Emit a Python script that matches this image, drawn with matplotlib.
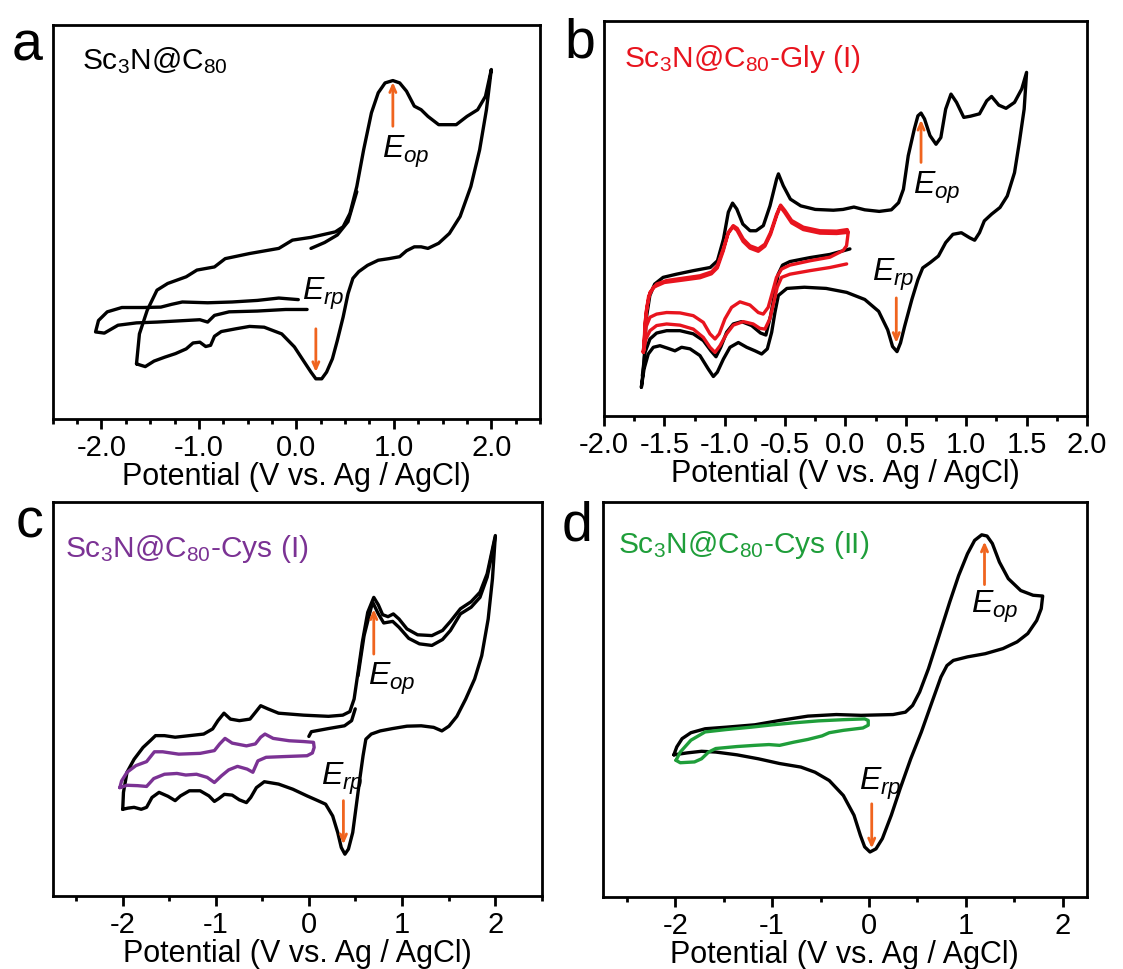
import numpy as np
import matplotlib.pyplot as plt
from matplotlib.ticker import MultipleLocator, FormatStrFormatter

plt.rcParams['font.family'] = ['Liberation Sans', 'DejaVu Sans']
plt.rcParams['mathtext.fontset'] = 'custom'
plt.rcParams['mathtext.rm'] = 'Liberation Sans'
plt.rcParams['mathtext.it'] = 'Liberation Sans:italic'
plt.rcParams['mathtext.default'] = 'regular'
plt.rcParams['axes.unicode_minus'] = False

# CV traces: (potential in V, current in arbitrary units 0-100)

# --- a: Sc3N@C80 ---
a_loop = [(-1.64, 14.0), (-1.61, 21.6), (-1.53, 27.6), (-1.43, 32.7), (-1.32, 34.4), (-1.13, 36.1),
          (-1.02, 37.8), (-0.84, 38.6), (-0.73, 40.7), (-0.48, 42.0), (-0.18, 43.3), (-0.04, 45.4),
          (0.15, 46.1), (0.40, 47.5), (0.48, 48.8), (0.55, 52.2), (0.62, 59.0), (0.69, 68.3),
          (0.77, 77.7), (0.84, 82.8), (0.91, 85.3), (0.99, 85.9), (1.06, 85.3), (1.13, 83.2),
          (1.21, 79.4), (1.28, 78.5), (1.35, 76.8), (1.46, 74.7), (1.64, 74.7), (1.75, 76.8),
          (1.86, 78.5), (1.94, 81.9), (2.00, 88.7),
          (1.95, 78.5), (1.88, 68.3), (1.79, 59.0), (1.68, 51.4), (1.57, 47.1), (1.46, 44.6),
          (1.35, 43.3), (1.28, 43.7), (1.21, 43.7), (1.13, 42.7), (1.06, 41.2), (0.95, 40.7),
          (0.84, 40.3), (0.73, 39.0), (0.64, 37.4), (0.58, 35.7), (0.53, 31.8), (0.48, 25.9),
          (0.42, 19.9), (0.37, 15.3), (0.31, 11.9), (0.26, 10.2), (0.20, 10.2), (0.15, 11.9),
          (0.07, 14.9), (-0.02, 18.3), (-0.15, 21.6), (-0.33, 23.3), (-0.48, 23.5), (-0.62, 22.9),
          (-0.77, 22.2), (-0.84, 21.0), (-0.88, 18.7), (-0.93, 18.4), (-0.99, 19.5), (-1.06, 19.3),
          (-1.13, 17.8), (-1.24, 16.6), (-1.35, 15.7), (-1.46, 14.7), (-1.55, 13.3), (-1.59, 13.6),
          (-1.64, 14.0)]
a_start = [(0.15, 43.3), (0.29, 44.8), (0.42, 46.7), (0.53, 50.1), (0.62, 57.7)]
a_tail = [(0.02, 30.3), (-0.18, 30.7), (-0.40, 30.1), (-0.66, 29.7), (-0.91, 29.5), (-1.17, 29.7),
          (-1.28, 29.1), (-1.39, 28.4), (-1.57, 28.3), (-1.79, 28.3), (-1.94, 27.2), (-2.03, 25.0),
          (-2.06, 22.1), (-1.97, 21.8), (-1.83, 23.8), (-1.64, 24.4), (-1.43, 24.6), (-1.21, 24.9),
          (-0.99, 25.2), (-0.91, 24.6), (-0.84, 26.3), (-0.69, 27.2), (-0.40, 27.4), (-0.11, 27.8),
          (0.11, 27.8)]

# --- b: Sc3N@C80-Gly (I) ---
b_loop = [(-1.69, 7.3), (-1.67, 12.7), (-1.65, 24.6), (-1.62, 30.5), (-1.58, 33.4), (-1.51, 35.1),
          (-1.40, 35.9), (-1.26, 36.8), (-1.12, 37.6), (-1.06, 39.3), (-1.01, 44.8), (-0.97, 51.6),
          (-0.935, 53.9), (-0.90, 52.4), (-0.85, 48.6), (-0.79, 46.9), (-0.74, 46.9), (-0.68, 48.2),
          (-0.625, 53.2), (-0.57, 60.0), (-0.555, 61.3), (-0.515, 58.3), (-0.456, 54.9), (-0.37, 53.2),
          (-0.25, 52.3), (-0.10, 52.1), (-0.02, 52.3), (0.07, 52.9), (0.16, 52.2), (0.28, 51.8),
          (0.38, 52.2), (0.44, 54.0), (0.48, 57.4), (0.52, 65.9), (0.57, 72.6), (0.60, 76.0),
          (0.626, 76.7), (0.655, 75.2), (0.70, 71.0), (0.75, 68.8), (0.79, 70.5), (0.83, 77.7),
          (0.874, 81.5), (0.92, 79.4), (0.98, 75.6), (1.035, 75.9), (1.11, 76.5), (1.17, 79.8),
          (1.21, 80.9), (1.27, 78.7), (1.33, 77.9), (1.40, 79.4), (1.46, 82.8), (1.50, 87.0),
          (1.48, 77.7), (1.44, 69.3), (1.40, 61.6), (1.34, 55.7), (1.28, 52.8), (1.21, 51.1),
          (1.15, 49.4), (1.11, 46.4), (1.07, 44.5), (1.03, 45.1), (0.96, 46.4), (0.89, 46.0),
          (0.83, 43.9), (0.77, 40.5), (0.70, 38.8), (0.64, 37.5), (0.60, 34.5), (0.55, 29.5),
          (0.49, 22.7), (0.456, 18.5), (0.427, 16.3), (0.39, 17.6), (0.35, 21.8), (0.275, 26.5),
          (0.16, 29.5), (0.01, 31.3), (-0.16, 32.3), (-0.34, 32.6), (-0.485, 32.3), (-0.556, 30.5),
          (-0.584, 26.2), (-0.611, 21.2), (-0.647, 17.0), (-0.694, 15.7), (-0.749, 16.5),
          (-0.818, 17.4), (-0.887, 18.6), (-0.956, 17.4), (-1.011, 14.4), (-1.061, 11.1),
          (-1.094, 10.0), (-1.136, 11.9), (-1.205, 15.3), (-1.287, 17.0), (-1.357, 17.4),
          (-1.412, 16.5), (-1.467, 17.1), (-1.536, 17.8), (-1.591, 17.4), (-1.633, 15.7),
          (-1.668, 11.9), (-1.69, 7.3)]
b_black2 = [(0.037, 42.3), (-0.129, 40.9), (-0.294, 40.1), (-0.460, 39.1), (-0.521, 38.2),
            (-0.557, 35.9), (-0.584, 31.3), (-0.620, 25.4), (-0.659, 20.5), (-0.703, 21.0),
            (-0.777, 22.9), (-0.860, 23.9), (-0.929, 23.3), (-0.984, 21.2), (-1.033, 17.4),
            (-1.072, 15.0), (-1.114, 16.5), (-1.177, 19.1), (-1.260, 20.8), (-1.370, 21.6),
            (-1.481, 21.6), (-1.564, 21.0), (-1.619, 19.5), (-1.660, 16.1), (-1.682, 10.2)]
b_red_low1 = [(0.010, 38.5), (-0.128, 37.6), (-0.294, 36.8), (-0.460, 35.9), (-0.529, 35.1),
              (-0.565, 32.6), (-0.593, 28.8), (-0.626, 24.6), (-0.667, 22.0), (-0.709, 22.2),
              (-0.764, 23.3), (-0.846, 23.9), (-0.929, 23.0), (-0.984, 20.8), (-1.039, 17.8),
              (-1.080, 16.1), (-1.122, 17.4), (-1.177, 19.9), (-1.260, 22.0), (-1.370, 23.0),
              (-1.481, 23.3), (-1.564, 22.9), (-1.619, 21.6), (-1.652, 19.5), (-1.674, 16.1)]
b_red_up1 = [(-1.674, 16.1), (-1.665, 20.0), (-1.660, 23.7), (-1.641, 27.9), (-1.619, 31.3),
             (-1.564, 33.4), (-1.481, 34.3), (-1.343, 34.9), (-1.205, 35.5), (-1.108, 36.5),
             (-1.061, 38.1), (-1.012, 42.3), (-0.970, 46.5), (-0.929, 48.2), (-0.896, 47.5),
             (-0.846, 44.8), (-0.791, 43.1), (-0.722, 42.3), (-0.667, 43.5), (-0.620, 46.5),
             (-0.570, 51.1), (-0.537, 53.4), (-0.501, 52.0), (-0.446, 49.5), (-0.349, 47.8),
             (-0.211, 46.9), (-0.073, 46.8), (0.015, 47.2), (0.023, 46.5), (0.009, 43.1)]
b_red_low2 = [(-0.019, 41.9), (-0.129, 40.2), (-0.294, 39.3), (-0.460, 38.2), (-0.529, 37.2),
              (-0.571, 35.1), (-0.605, 31.3), (-0.640, 27.5), (-0.681, 25.8), (-0.722, 26.2),
              (-0.791, 28.1), (-0.874, 28.9), (-0.943, 27.5), (-0.998, 24.6), (-1.045, 20.8),
              (-1.080, 19.5), (-1.122, 20.8), (-1.177, 23.7), (-1.260, 25.4), (-1.370, 26.1),
              (-1.481, 26.2), (-1.564, 25.8), (-1.619, 25.0), (-1.652, 22.5), (-1.674, 16.1)]
b_red_up2 = [(-1.674, 16.1), (-1.662, 21.0), (-1.650, 26.5), (-1.630, 30.3), (-1.590, 32.6),
             (-1.500, 33.8), (-1.350, 34.4), (-1.205, 35.0), (-1.110, 36.0), (-1.061, 37.5),
             (-1.012, 41.8), (-0.972, 46.2), (-0.931, 47.9), (-0.898, 47.0), (-0.848, 44.2),
             (-0.791, 42.5), (-0.722, 41.7), (-0.667, 43.0), (-0.620, 46.0), (-0.570, 50.7),
             (-0.540, 53.0), (-0.503, 51.5), (-0.446, 48.9), (-0.349, 47.2), (-0.211, 46.3),
             (-0.073, 46.2), (0.020, 46.5)]

# --- c: Sc3N@C80-Cys (I) ---
c_loop = [(-1.998, 22.0), (-1.990, 26.3), (-1.952, 31.4), (-1.876, 34.7), (-1.780, 37.7),
          (-1.703, 39.4), (-1.646, 40.7), (-1.550, 40.7), (-1.435, 40.3), (-1.282, 40.7),
          (-1.129, 41.1), (-1.033, 42.4), (-0.976, 44.5), (-0.911, 46.4), (-0.842, 44.9),
          (-0.746, 44.5), (-0.632, 44.9), (-0.574, 46.6), (-0.517, 48.3), (-0.440, 47.5),
          (-0.325, 46.4), (-0.057, 45.9), (0.211, 45.6), (0.364, 45.9), (0.440, 46.8),
          (0.486, 50.0), (0.528, 56.8), (0.574, 64.4), (0.632, 72.0), (0.697, 75.8), (0.746, 73.9),
          (0.792, 71.4), (0.850, 70.9), (0.907, 71.6), (0.968, 70.3), (1.053, 67.8), (1.167, 66.3),
          (1.321, 66.1), (1.435, 67.4), (1.520, 69.7), (1.627, 72.9), (1.742, 74.7), (1.837, 77.1),
          (1.914, 81.8), (2.002, 91.5),
          (1.971, 80.5), (1.925, 70.3), (1.856, 61.0), (1.780, 55.1), (1.684, 50.0), (1.589, 45.6),
          (1.504, 43.1), (1.428, 41.9), (1.340, 42.8), (1.206, 43.2), (1.053, 43.1), (0.900, 42.5),
          (0.766, 41.9), (0.670, 41.1), (0.612, 39.8), (0.582, 35.6), (0.547, 29.7), (0.509, 22.9),
          (0.471, 16.1), (0.425, 11.9), (0.387, 10.6), (0.348, 12.3), (0.310, 16.1), (0.256, 20.3),
          (0.180, 23.3), (0.096, 24.2), (-0.019, 25.4), (-0.172, 27.1), (-0.325, 28.4),
          (-0.478, 29.0), (-0.563, 27.5), (-0.624, 25.0), (-0.670, 23.7), (-0.746, 24.4),
          (-0.823, 25.6), (-0.907, 25.8), (-0.968, 24.7), (-1.014, 24.0), (-1.072, 25.4),
          (-1.167, 26.7), (-1.282, 26.7), (-1.378, 25.4), (-1.435, 24.2), (-1.512, 25.3),
          (-1.608, 26.3), (-1.684, 25.0), (-1.742, 22.5), (-1.799, 22.0), (-1.876, 22.5),
          (-1.941, 22.3), (-1.998, 22.0)]
c_second = [(0.528, 55.9), (0.593, 66.1), (0.670, 73.3), (0.689, 74.4), (0.746, 71.6), (0.804, 69.3),
            (0.900, 69.7), (0.968, 68.2), (1.072, 65.4), (1.187, 64.0), (1.321, 63.6), (1.435, 65.1),
            (1.520, 67.4), (1.627, 71.6), (1.742, 73.3), (1.837, 75.8), (1.914, 80.9), (2.002, 91.1)]
c_start = [(0.0, 40.5), (0.027, 41.7), (0.211, 42.5), (0.383, 43.2), (0.459, 44.5), (0.498, 47.5)]
c_purple = [(-2.029, 27.5), (-2.010, 29.2), (-1.952, 31.4), (-1.856, 33.1), (-1.742, 34.1),
            (-1.658, 36.6), (-1.569, 36.6), (-1.397, 36.0), (-1.167, 36.2), (-1.014, 36.9),
            (-0.957, 38.6), (-0.900, 40.0), (-0.823, 38.8), (-0.670, 38.1), (-0.574, 38.6),
            (-0.517, 40.3), (-0.471, 41.1), (-0.383, 40.0), (-0.211, 39.4), (-0.057, 39.2),
            (0.050, 39.0), (0.057, 37.7), (0.038, 36.3), (-0.019, 35.6), (-0.249, 35.4),
            (-0.459, 35.2), (-0.547, 34.3), (-0.601, 31.4), (-0.662, 32.2), (-0.766, 32.9),
            (-0.861, 32.0), (-0.938, 30.5), (-1.014, 28.8), (-1.091, 30.1), (-1.206, 30.9),
            (-1.321, 30.7), (-1.416, 31.1), (-1.550, 30.9), (-1.665, 29.8), (-1.742, 27.8),
            (-1.837, 28.0), (-1.952, 28.1), (-2.029, 27.5)]

# --- d: Sc3N@C80-Cys (II) ---
d_loop = [(-2.015, 36.0), (-1.985, 38.0), (-1.930, 40.1), (-1.839, 41.6), (-1.692, 42.6),
          (-1.473, 43.0), (-1.179, 43.6), (-0.923, 44.7), (-0.630, 45.8), (-0.337, 46.2),
          (-0.081, 46.0), (0.249, 46.2), (0.377, 46.8), (0.451, 48.5), (0.524, 51.9), (0.615, 57.8),
          (0.725, 66.2), (0.835, 74.7), (0.927, 81.4), (1.018, 86.9), (1.092, 90.3), (1.165, 91.7),
          (1.220, 91.4), (1.275, 89.5), (1.348, 84.8), (1.440, 80.6), (1.568, 77.6), (1.696, 76.4),
          (1.795, 76.2),
          (1.780, 73.0), (1.733, 70.0), (1.641, 66.7), (1.531, 64.6), (1.385, 62.9), (1.201, 61.6),
          (1.018, 60.8), (0.872, 59.9), (0.806, 58.6), (0.744, 55.7), (0.652, 49.4), (0.542, 41.8),
          (0.432, 35.0), (0.322, 27.4), (0.231, 20.7), (0.139, 14.8), (0.073, 12.2), (0.011, 11.4),
          (-0.044, 12.7), (-0.088, 15.6), (-0.154, 20.7), (-0.264, 25.7), (-0.410, 29.5),
          (-0.557, 31.6), (-0.703, 32.9), (-0.923, 33.8), (-1.143, 35.0), (-1.363, 36.0),
          (-1.582, 36.7), (-1.729, 36.9), (-1.875, 36.5), (-2.015, 36.0)]
d_green = [(-1.993, 34.6), (-1.949, 36.7), (-1.839, 39.7), (-1.692, 41.8), (-1.473, 42.4),
           (-1.216, 43.0), (-0.996, 43.6), (-0.777, 44.1), (-0.520, 44.6), (-0.264, 44.9),
           (-0.044, 45.1), (-0.007, 44.7), (-0.007, 43.5), (-0.062, 42.8), (-0.264, 42.2),
           (-0.410, 41.6), (-0.484, 40.8), (-0.630, 39.9), (-0.777, 39.2), (-0.923, 38.4),
           (-1.033, 38.6), (-1.179, 38.4), (-1.363, 38.1), (-1.582, 37.6), (-1.656, 36.7),
           (-1.729, 35.0), (-1.802, 34.2), (-1.949, 34.0), (-1.993, 34.6)]

RED = '#e8141e'
PURPLE = '#7b3294'
GREEN = '#1f9e3a'
ORANGE = '#f0641e'
LW = 2.4


def trace(ax, pts, color='black', lw=LW):
    v, i = np.array(pts).T
    ax.plot(v, i, color=color, lw=lw, solid_joinstyle='round', solid_capstyle='round')


def style(ax, xlim, major, minor, fmt):
    ax.set_xlim(*xlim)
    ax.set_ylim(0, 100)
    ax.set_yticks([])
    ax.xaxis.set_major_locator(MultipleLocator(major))
    ax.xaxis.set_minor_locator(MultipleLocator(minor))
    ax.xaxis.set_major_formatter(FormatStrFormatter(fmt))
    ax.tick_params(axis='x', which='major', direction='out', length=7, width=2, pad=3, labelsize=21)
    ax.tick_params(axis='x', which='minor', direction='out', length=3.5, width=2)
    for s in ax.spines.values():
        s.set_linewidth(2)
    ax.set_xlabel('Potential (V vs. Ag / AgCl)', fontsize=22, labelpad=0)


def marks(ax, up, down):
    # up = (V, tail, tip, text_x, text_y); down likewise
    for (v, tail, tip, tx, ty), sub in ((up, 'op'), (down, 'rp')):
        ax.annotate('', xy=(v, tip), xytext=(v, tail),
                    arrowprops=dict(arrowstyle='->,head_length=0.5,head_width=0.22',
                                    color=ORANGE, lw=2, shrinkA=0, shrinkB=0))
        ax.text(tx, ty, r'$\mathit{E}_{\mathit{%s}}$' % sub, fontsize=23, va='baseline', ha='left')


fig = plt.figure(figsize=(11.23, 9.70), dpi=100)
ax_a = fig.add_axes([0.0469, 0.567, 0.434, 0.4062])
ax_b = fig.add_axes([0.5378, 0.5701, 0.4301, 0.4072])
ax_c = fig.add_axes([0.0469, 0.0753, 0.4355, 0.4061])
ax_d = fig.add_axes([0.5367, 0.0742, 0.4310, 0.4072])

# a
trace(ax_a, a_loop)
trace(ax_a, a_start)
trace(ax_a, a_tail)
style(ax_a, (-2.5, 2.5), 1.0, 0.25, '%.1f')
marks(ax_a, (0.99, 74.3, 85.5, 0.88, 66.6), (0.20, 22.9, 11.9, 0.055, 30.6))
ax_a.text(0.061, 0.891, r'Sc$_3$N@C$_{80}$', transform=ax_a.transAxes, fontsize=21.5, va='baseline')

# b
trace(ax_b, b_loop)
trace(ax_b, b_black2)
red = np.concatenate([b_red_low1, b_red_up1, b_red_low2, b_red_up2])
trace(ax_b, red, RED)
style(ax_b, (-2.0, 2.0), 0.5, 0.25, '%.1f')
marks(ax_b, (0.626, 64.2, 75.0, 0.561, 56.6), (0.421, 29.9, 18.5, 0.216, 34.5))
ax_b.text(0.041, 0.887, r'Sc$_3$N@C$_{80}$-Gly (I)', transform=ax_b.transAxes, fontsize=21.5,
          va='baseline', color=RED)

# c
trace(ax_c, c_loop)
trace(ax_c, c_second)
trace(ax_c, c_start)
trace(ax_c, c_purple, PURPLE)
style(ax_c, (-2.75, 2.5), 1, 0.5, '%d')
marks(ax_c, (0.697, 61.4, 72.8, 0.632, 53.8), (0.371, 24.2, 13.1, 0.126, 28.4))
ax_c.text(0.025, 0.864, r'Sc$_3$N@C$_{80}$-Cys (I)', transform=ax_c.transAxes, fontsize=21.5,
          va='baseline', color=PURPLE)

# d
trace(ax_d, d_loop)
trace(ax_d, d_green, GREEN)
style(ax_d, (-2.75, 2.25), 1, 0.5, '%d')
marks(ax_d, (1.194, 79.1, 90.0, 1.055, 72.2), (0.029, 23.6, 12.3, -0.099, 27.4))
ax_d.text(0.031, 0.873, r'Sc$_3$N@C$_{80}$-Cys (II)', transform=ax_d.transAxes, fontsize=21.5,
          va='baseline', color=GREEN)

for lab, x, y in (('a', 0.0107, 0.938), ('b', 0.503, 0.941), ('c', 0.0142, 0.4454), ('d', 0.5004, 0.443)):
    fig.text(x, y, lab, fontsize=40, va='baseline', ha='left')

fig.savefig('out.png', dpi=100)
